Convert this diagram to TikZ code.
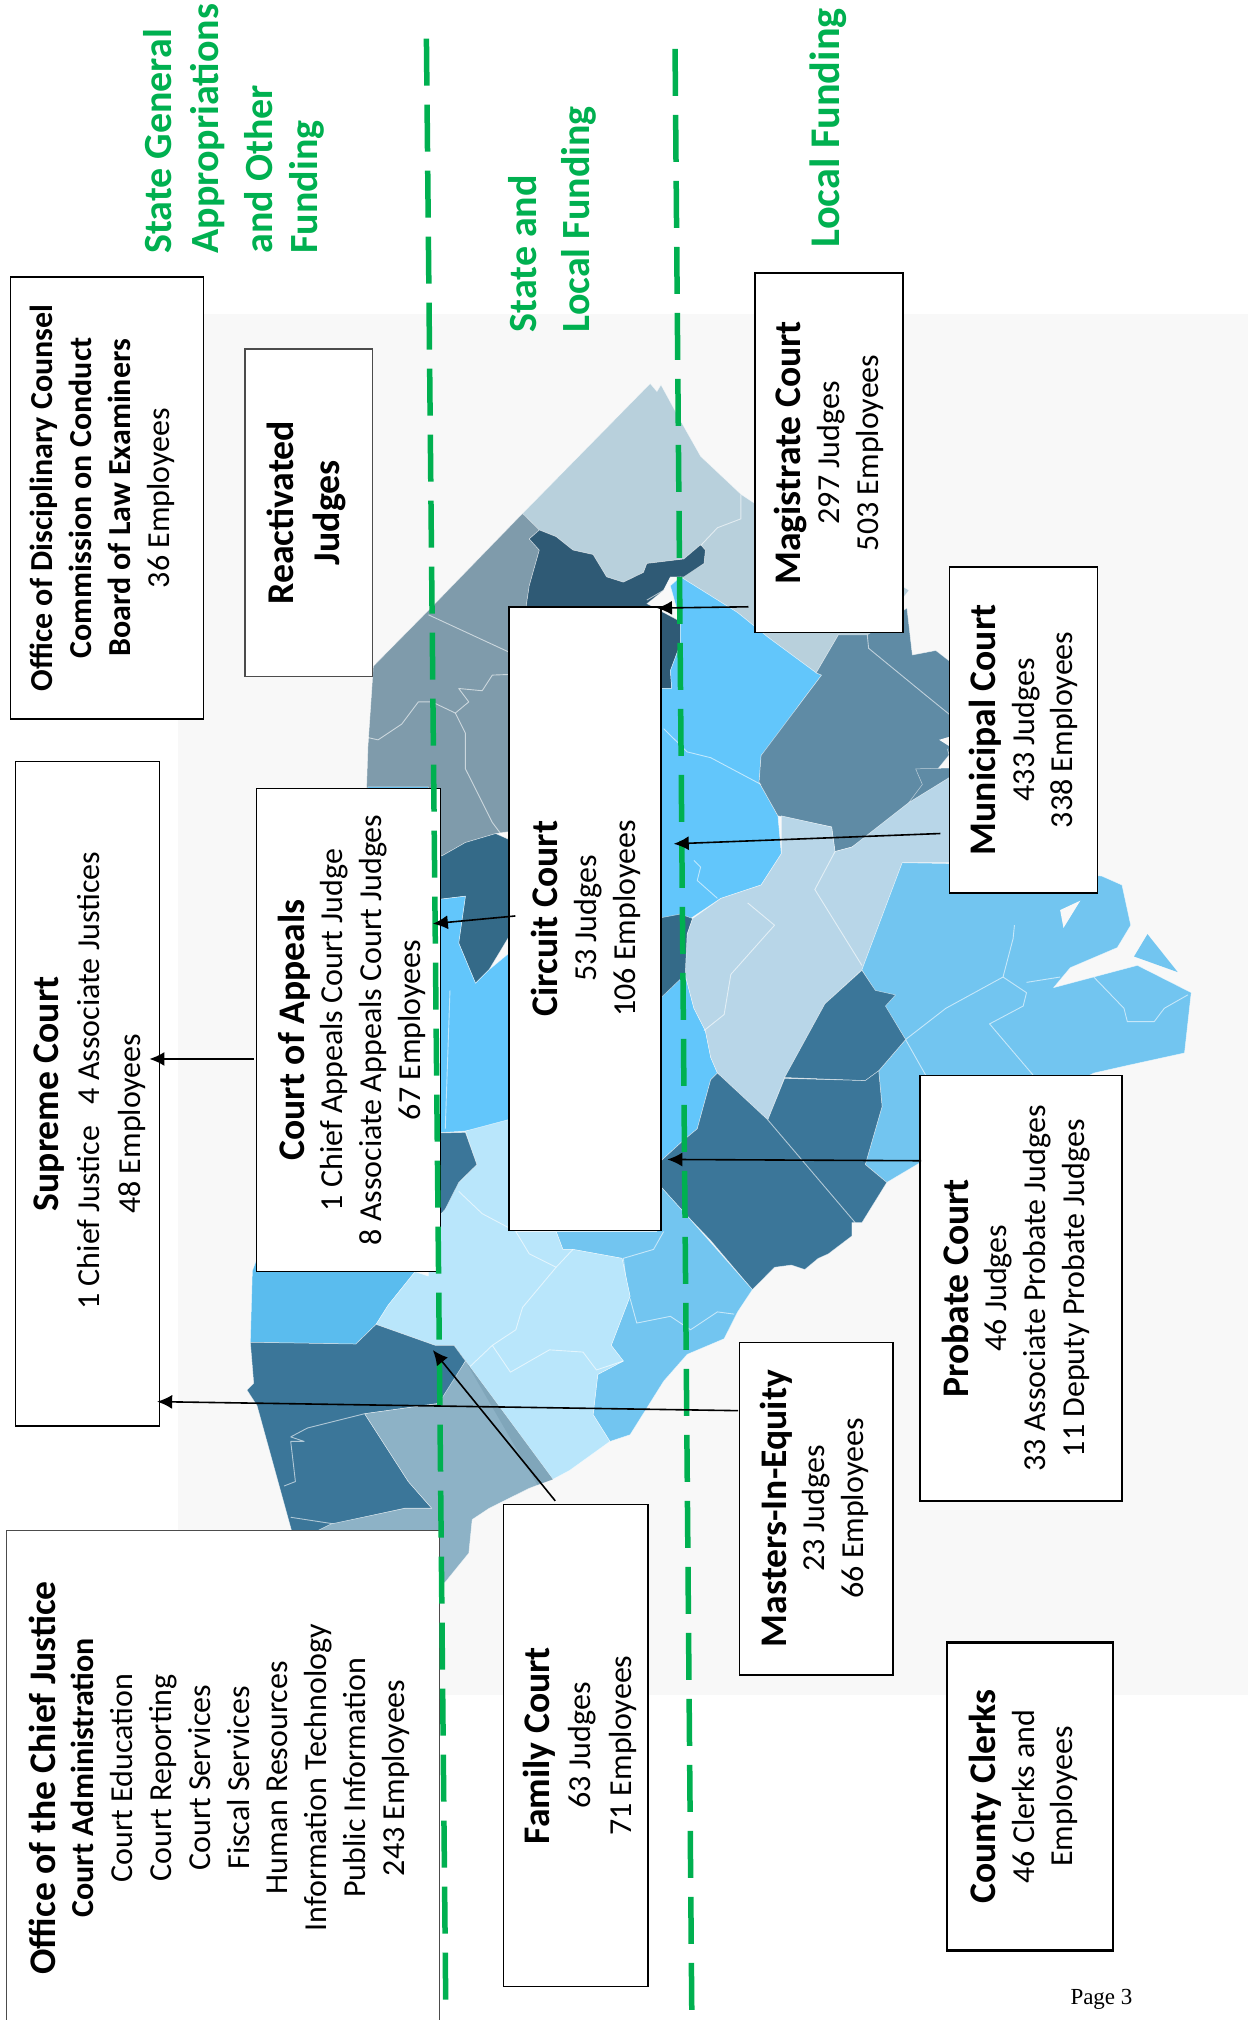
\documentclass[tikz,border=0pt]{standalone}
\usepackage{fontspec}
\setmainfont{Carlito}
\newfontfamily\pagefont{Liberation Serif}
\usetikzlibrary{arrows.meta}
\definecolor{bgmap}{HTML}{F8F8F8}
\definecolor{cgreen}{HTML}{00B050}
\definecolor{ca}{HTML}{B8D0DC}
\definecolor{cb}{HTML}{7F9BAB}
\definecolor{cc}{HTML}{2F5A75}
\definecolor{cd}{HTML}{62C6FB}
\definecolor{ce}{HTML}{5F8BA5}
\definecolor{cf}{HTML}{B8D6E8}
\definecolor{cg}{HTML}{72C5F0}
\definecolor{ch}{HTML}{3B7699}
\definecolor{ci}{HTML}{5ABCEE}
\definecolor{cj}{HTML}{346A88}
\definecolor{ck}{HTML}{B9E6FB}
\definecolor{cn}{HTML}{8DB2C6}
\definecolor{cstrip}{HTML}{80A6BA}
\newcommand{\hd}[1]{{\fontsize{32}{38.8}\selectfont\bfseries #1}}
\newcommand{\hb}[1]{{\fontsize{37.6}{38.8}\selectfont\bfseries #1}}
\newcommand{\cbox}[9][0]{%
  \pgfmathsetmacro\bw{(#8-#6)*1.2883}\pgfmathsetmacro\bh{(#7-#5)*1.2883}%
  \node[courtbox,#2,minimum width=\bw pt,minimum height=\bh pt] (#4) at ({(#5+#7)/2},{(#6+#8)/2}) {};
  \node[boxtext,#3] (#4t) at ({(#5+#7)/2+#1},{(#6+#8)/2}) {#9};}
\tikzset{
  za/.style={shift={(155.24,232.9)},x=0.672pt,y=-0.4465pt},
  zb/.style={shift={(155.24,737.6)},x=0.672pt,y=-0.4465pt},
  mp/.style={fill=#1,draw=white,draw opacity=.6,line width=.5pt,line join=round},
  cl/.style={draw=white,draw opacity=.6,line width=.9pt,line join=round},
  courtbox/.style={draw=black,fill=white,line width=1.5pt,rotate=90,inner sep=0pt},
  boxtext/.style={rotate=90,inner sep=0pt,align=center,font=\fontsize{32}{38.8}\selectfont},
  fundtext/.style={text=cgreen,rotate=90,anchor=west,inner sep=0pt,
    font=\fontsize{40}{44}\selectfont\bfseries},
  fundline/.style={draw=cgreen,line width=5.5pt,dash pattern=on 47pt off 19pt},
  arr/.style={draw=black,line width=1.6pt,-{Latex[length=15pt,width=14pt]}},
}
\begin{document}
\begin{tikzpicture}[x=1.2883pt,y=-1.2883pt]
\useasboundingbox (0,0) rectangle (968.7,1568);
\fill[white] (0,0) rectangle (968.7,1568);
\fill[bgmap] (138,244) rectangle (968.7,1316);
% map, zoom frame a
\begin{scope}[za]
\path[mp=ca] (480,478)--(670,187)--(680,205)--(686,190)--(715,270)--(745,350)--(805,435)--(860,490)--(1000,600)--(1055,650)--(1000,760)--(950,750)--(917,835)--(845,755)--(800,700)--(715,620)--(750,590)--(752,560)--(745,548)--(720,580)--(665,590)--(660,610)--(630,632)--(605,620)--(585,570)--(555,560)--(530,530)--(505,515)--(490,535)--(505,560)--cycle;
\path[mp=cb] (480,478)--(505,515)--(490,535)--(505,560)--(490,640)--(485,690)--(520,800)--(520,1100)--(462,1190)--(440,1195)--(395,1215)--(360,1245)--(250,1250)--(248,1090)--(250,1000)--(258,820)--(340,695)--cycle;
\path[mp=cc] (505,515)--(530,530)--(555,560)--(585,570)--(605,620)--(630,632)--(660,610)--(665,590)--(720,580)--(745,548)--(752,560)--(750,590)--(720,620)--(700,620)--(690,650)--(665,680)--(715,720)--(715,770)--(700,830)--(702,870)--(680,870)--(680,690)--(485,690)--(490,640)--(505,560)--(490,535)--cycle;
\path[mp=cd] (715,620)--(800,700)--(845,755)--(917,835)--(925,840)--(890,910)--(860,980)--(835,1020)--(832,1080)--(860,1155)--(865,1240)--(835,1310)--(775,1340)--(730,1385)--(680,1385)--(680,870)--(702,870)--(700,830)--(715,770)--(715,720)--(700,640)--cycle;
\path[mp=ce] (950,750)--(993,750)--(1052,690)--(1060,795)--(1095,785)--(1125,820)--(1125,1000)--(1060,1120)--(1000,1200)--(970,1225)--(945,1235)--(940,1180)--(860,1155)--(832,1080)--(835,1020)--(890,910)--(925,840)--(917,835)--cycle;
\fill[bgmap] (1100,985)--(1122,975)--(1118,1002)--cycle;
\path[mp=ce] (1112,1005)--(1125,1060)--(1065,1130)--(1055,1125)--(1075,1085)--(1065,1050)--(1120,1048)--cycle;
\draw[cl] (993,750)--(995,780)--(1080,885)--(1125,940);
\draw[cl] (340,705)--(462,790);
\draw[cl] (470,838)--(435,840)--(420,875)--(385,870)--(400,900)--(380,925)--(345,900)--(325,900)--(300,950)--(265,985)--(250,980);
\draw[cl] (380,925)--(395,970)--(395,1050)--(435,1170)--(465,1230);
\draw[cl] (805,435)--(805,490)--(770,510)--(745,550);
\draw[cl] (700,622)--(690,650)--(665,672);
\draw[cl] (690,960)--(725,1012)--(760,1025)--(835,1085);
\draw[cl] (735,1255)--(745,1270)--(740,1300)--(770,1340);
\path[mp=cj] (360,1245)--(395,1215)--(440,1195)--(470,1215)--(470,1400)--(430,1500)--(410,1530)--(385,1440)--(395,1335)--(340,1345)--(340,1245)--cycle;
\end{scope}
% map, zoom frame b
\begin{scope}[zb]
\path[mp=cd] (340,-111)--(395,-121)--(385,-16)--(410,74)--(430,44)--(470,-6)--(470,385)--(395,405)--(340,410)--cycle;
\draw[cl] (372,90)--(365,400);
\path[mp=ci] (250,-366)--(340,-366)--(340,720)--(320,720)--(280,795)--(262,838)--(232,882)--(75,878)--(78,718)--(85,690)--cycle;
\path[mp=cd] (680,110)--(722,55)--(735,130)--(752,180)--(760,240)--(770,275)--(760,290)--(740,400)--(720,425)--(680,480)--cycle;
\path[mp=cj] (680,-71)--(715,-81)--(733,-71)--(725,-36)--(725,50)--(680,115)--cycle;
\path[mp=cf] (865,-301)--(940,-276)--(945,-221)--(970,-231)--(1055,-331)--(1125,-396)--(1125,-196)--(1045,-196)--(1000,-16)--(985,44)--(930,120)--(890,230)--(870,285)--(845,380)--(770,275)--(760,240)--(752,180)--(735,130)--(722,55)--(725,-36)--(733,-71)--(775,-116)--(835,-146)--(865,-216)--cycle;
\path[mp=cg] (1045,-196)--(1120,-194)--(1342,-166)--(1372,-146)--(1385,-56)--(1365,-6)--(1295,39)--(1270,84)--(1395,34)--(1475,95)--(1465,230)--(1380,258)--(1330,275)--(1078,470)--(1022,520)--(990,480)--(1015,350)--(1010,270)--(1050,200)--(985,44)--(1000,-16)--cycle;
\fill[cg] (1410,-36)--(1455,49)--(1390,14)--cycle;
\fill[bgmap] (1310,-111)--(1285,-50)--(1280,-90)--cycle;
\draw[cl] (1050,200)--(1110,130)--(1195,60)--(1210,-26)--(1212,-56);
\draw[cl] (1195,60)--(1230,95)--(1225,125)--(1175,165)--(1240,280);
\draw[cl] (1050,200)--(1080,280);
\draw[cl] (1230,72)--(1280,60);
\draw[cl] (1330,60)--(1375,130)--(1380,160)--(1420,160)--(1435,130)--(1470,100);
\draw[cl] (945,-221)--(915,-136)--(985,34);
\draw[cl] (815,-106)--(855,-56)--(790,54)--(780,144)--(750,180);
\path[mp=ch] (985,45)--(1005,90)--(1035,100)--(1020,125)--(1050,200)--(1010,270)--(990,292)--(870,285)--(890,230)--(930,120)--cycle;
\path[mp=ch] (870,287)--(990,292)--(1010,270)--(1015,350)--(990,480)--(1022,520)--(985,610)--(970,610)--(970,640)--(935,680)--(920,690)--(900,715)--(880,705)--(855,710)--(822,760)--(760,650)--(725,595)--(680,520)--(680,480)--(720,425)--(740,400)--(760,290)--(770,275)--(845,380)--cycle;
\draw[cl] (845,380)--(975,610);
\path[mp=cg] (530,630)--(680,630)--(680,520)--(725,595)--(822,760)--(800,810)--(780,870)--(725,905)--(690,965)--(640,1085)--(610,1100)--(585,1040)--(592,950)--(630,920)--(612,885)--(640,775)--(628,690)--(555,670)--(540,670)--cycle;
\draw[cl] (690,630)--(675,670)--(630,690)--(635,750);
\draw[cl] (640,780)--(650,835)--(700,820)--(730,850)--(770,810)--(795,815);
\path[mp=ck] (470,375)--(395,405)--(412,480)--(385,520)--(340,600)--(340,730)--(320,720)--(280,795)--(262,838)--(350,885)--(378,885)--(525,1185)--(550,1165)--(610,1100)--(585,1040)--(592,950)--(630,920)--(612,885)--(640,775)--(628,690)--(555,670)--(540,670)--(530,630)--(470,630)--cycle;
\draw[cl] (385,540)--(420,590)--(470,630)--(490,680)--(530,710)--(555,670);
\draw[cl] (530,710)--(480,800)--(470,850)--(435,885)--(462,945)--(520,895)--(570,900)--(590,940)--(630,920);
\draw[cl] (435,885)--(400,935);
\path[mp=ch] (340,410)--(395,408)--(412,480)--(385,520)--(365,580)--(340,620)--cycle;
\path[mp=ch] (75,878)--(232,882)--(262,838)--(350,885)--(378,885)--(395,920)--(375,975)--(355,1015)--(245,1038)--(310,1190)--(345,1250)--(345,1320)--(140,1320)--(85,1020)--(70,985)--(80,970)--cycle;
\draw[cl] (245,1038)--(160,1070)--(135,1090)--(155,1100)--(135,1100)--(142,1190)--(125,1200);
\draw[cl] (135,1270)--(200,1285)--(305,1250)--(345,1250);
\path[mp=cn] (245,1038)--(355,1015)--(395,920)--(525,1185)--(490,1205)--(430,1250)--(405,1275)--(400,1350)--(365,1415)--(340,1440)--(340,1300)--(175,1300)--(195,1285)--(305,1250)--(345,1250)--(310,1190)--cycle;
\fill[cstrip] (378,885)--(525,1185)--(502,1197)--(395,920)--cycle;
\end{scope}
% boxes
\cbox[-3.5]{}{}{disc}{8}{215}{158}{558}{\hd{Office of Disciplinary Counsel}\\ \hd{Commission on Conduct}\\ \hd{Board of Law Examiners}\\ 36 Employees}
\cbox[-2]{draw=black!70}{font=\fontsize{37.8}{46}\selectfont}{react}{190}{271}{289}{525}{\textbf{Reactivated}\\ \textbf{Judges}}
\cbox[2]{}{font=\fontsize{32}{41}\selectfont}{supreme}{12}{591}{124}{1107}{\hb{Supreme Court}\\ \hspace*{26pt}1 Chief Justice\ \ \ 4 Associate Justices\\ 48 Employees\hspace*{60pt}}
\cbox[2.5]{}{}{appeals}{199}{612}{342}{987}{\hb{Court of Appeals}\\ 1 Chief Appeals Court Judge\\ 8 Associate Appeals Court Judges\\ 67 Employees}
\cbox[1]{}{}{circuit}{395}{471}{513}{955}{\hb{Circuit Court}\\ 53 Judges\\ 106 Employees}
\cbox{}{}{magistrate}{586}{212}{701}{491}{\hb{Magistrate Court}\\ 297 Judges\\ 503 Employees}
\cbox{}{}{municipal}{737}{440}{852}{693}{\hb{Municipal Court}\\ 433 Judges\\ 338 Employees}
\cbox[-4]{}{}{probate}{714}{835}{871}{1165}{\hb{Probate Court}\\ 46 Judges\\ 33 Associate Probate Judges\\ 11 Deputy Probate Judges}
\cbox[-1.5]{}{}{masters}{574}{1042}{693}{1300}{\hb{Masters-In-Equity}\\ 23 Judges\\ 66 Employees}
\cbox[-5]{line width=2.6pt}{}{clerks}{735}{1275}{864}{1514}{\hb{County Clerks}\\ 46 Clerks and\\ Employees}
\cbox[3]{}{font=\fontsize{32}{41}\selectfont}{family}{391}{1168}{503}{1542}{\hb{Family Court}\\ 63 Judges\\ 71 Employees}
\cbox[-3]{draw=black!70}{}{chief}{5}{1188}{341}{1572}{\hb{Office of the Chief Justice}\\ \hd{Court Administration}\\ Court Education\\ Court Reporting\\ Court Services\\ Fiscal Services\\ Human Resources\\ Information Technology\\ Public Information\\ 243 Employees}
% funding
\node[fundtext] (f1) at (122,197) {State General};
\node[fundtext] (f2) at (161,197) {Appropriations};
\node[fundtext] (f3) at (201,197) {and Other};
\node[fundtext] (f4) at (238,197) {Funding};
\node[fundtext] (f5) at (406,258) {State and};
\node[fundtext] (f6) at (449,258) {Local Funding};
\node[fundtext,font=\fontsize{42.3}{46}\selectfont\bfseries] (f7) at (643,192) {Local Funding};
\coordinate (g1a) at (331,30); \coordinate (g1b) at (346,1555);
\coordinate (g2a) at (524,38); \coordinate (g2b) at (537,1562);
\draw[fundline] (g1a) -- (g1b);
\draw[fundline] (g2a) -- (g2b);
% arrows
\coordinate (t1) at (510,472); \coordinate (s1) at (581,471);
\coordinate (t2) at (523,655); \coordinate (s2) at (730,647);
\coordinate (t3) at (336,717); \coordinate (s3) at (400,711);
\coordinate (t4) at (116,822); \coordinate (s4) at (197,822);
\coordinate (t5) at (518,900); \coordinate (s5) at (715,901);
\coordinate (t6) at (122,1088); \coordinate (s6) at (573,1095);
\coordinate (t7) at (336,1048); \coordinate (s7) at (431,1165);
\draw[arr] (s1) -- (t1);
\draw[arr] (s2) -- (t2);
\draw[arr] (s3) -- (t3);
\draw[arr] (s4) -- (t4);
\draw[arr] (s5) -- (t5);
\draw[arr] (s6) -- (t6);
\draw[arr] (s7) -- (t7);
\node[inner sep=0pt,font=\pagefont\fontsize{23}{26}\selectfont] (pg) at (855,1552) {Page 3};
\end{tikzpicture}
\end{document}
